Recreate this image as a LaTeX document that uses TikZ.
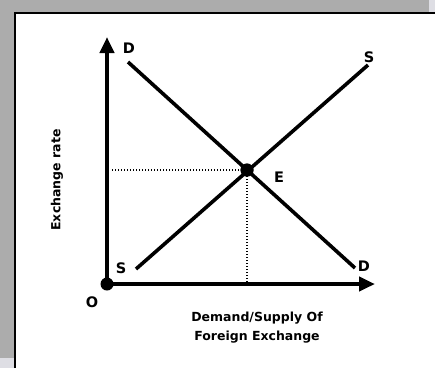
\documentclass[tikz,border=0pt]{standalone}
\usepackage{fontspec}
\setmainfont{DejaVu Sans}
\usetikzlibrary{arrows.meta}
\definecolor{bg}{RGB}{172,172,172}
\definecolor{bglight}{RGB}{222,222,228}
\begin{document}
\begin{tikzpicture}[x=1pt,y=-1pt,
  lbl/.style={font=\bfseries\fontsize{14.5}{16}\selectfont, inner sep=0pt},
  axislbl/.style={font=\bfseries\fontsize{12.5}{19}\selectfont, inner sep=0pt, align=center},
  axis/.style={line width=4pt, -{Triangle[length=16pt,width=14pt]}},
  curve/.style={line width=3.6pt},
  guide/.style={line width=1.4pt, dash pattern=on 1.4pt off 1.6pt},
  bigdot/.style={circle, fill=black, inner sep=0pt, minimum size=#1}]
\useasboundingbox (0,0) rectangle (435,368);
\fill[bg] (0,0) rectangle (435,368);
\fill[bglight] (429,0) rectangle (435,13);
\fill[bglight] (0,358) rectangle (14,368);
\fill[white] (15,13) rectangle (435,368);
\draw[line width=2pt] (15,368) -- (15,13) -- (435,13);
% axes
\coordinate (Oc) at (107,284);
\coordinate (ytip) at (107,37);
\coordinate (xtip) at (375,284);
\draw[axis] (Oc) -- (ytip);
\draw[axis] (Oc) -- (xtip);
% curves
\coordinate (D1) at (128,62);
\coordinate (D2) at (355,268);
\coordinate (S1) at (136,269);
\coordinate (S2) at (368,65);
\draw[curve] (D1) -- (D2);
\draw[curve] (S1) -- (S2);
% equilibrium
\node[bigdot=13pt] (E) at (247,170) {};
\coordinate (yE) at (112,170);
\coordinate (xE) at (247,284);
\draw[guide] (yE) -- (E.center);
\draw[guide] (E.center) -- (xE);
\node[bigdot=13pt] at (247,170) {};
\node[bigdot=13pt] (O) at (Oc) {};
% labels
\node[lbl] (Dtop) at (129,48) {D};
\node[lbl] (Stop) at (369,57) {S};
\node[lbl] (El) at (279,177) {E};
\node[lbl] (Slow) at (121,268) {S};
\node[lbl] (Dlow) at (364,266) {D};
\node[lbl] (Ol) at (92,302) {O};
\node[axislbl, rotate=90] (ylab) at (57,180) {Exchange rate};
\node[axislbl] (xlab) at (257,328) {Demand/Supply Of\\Foreign Exchange};
\end{tikzpicture}
\end{document}
